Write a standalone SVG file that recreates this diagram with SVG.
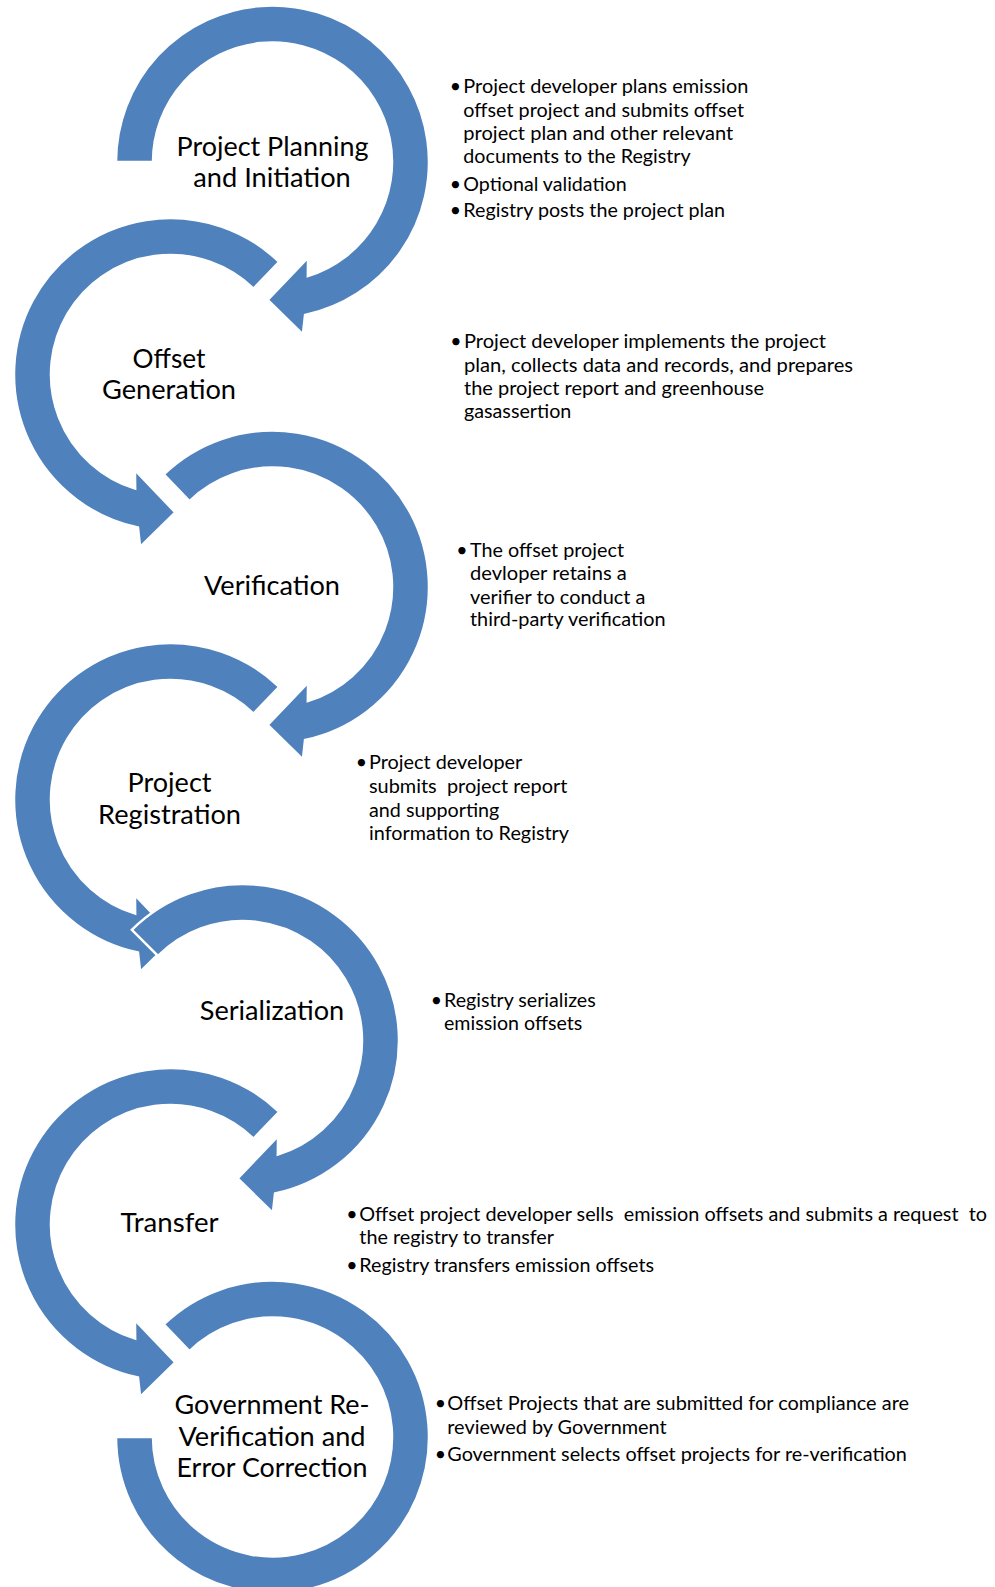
<svg xmlns="http://www.w3.org/2000/svg" width="995" height="1587" viewBox="0 0 995 1587">
<style>
.arc{fill:#4F81BD;stroke:#FFFFFF;stroke-width:2.5;stroke-linejoin:miter}
.lbl{font-family:Lato,"Liberation Sans",sans-serif;font-size:26.5px;fill:#000;text-anchor:middle}
.bt{font-family:Lato,"Liberation Sans",sans-serif;font-size:19.5px;fill:#000;white-space:pre}
.bu{font-family:Lato,"Liberation Sans",sans-serif;font-size:19.5px;fill:#000;text-anchor:middle}
</style>
<rect x="0" y="0" width="995" height="1587" fill="#FFFFFF"/>
<g id="connectors">
<path id="arrow1" class="arc" d="M116,162 A156.5,156.5 0 1 1 305.04,315.08 L302.89,334.34 L267.68,299.92 L308.05,257.6 L307.84,276.16 A119.5,119.5 0 1 0 153,162 Z"/>
<path id="arrow2" class="arc" d="M279.21,261.92 A156.5,156.5 0 1 0 137.96,527.58 L140.11,546.84 L175.32,512.42 L134.95,470.1 L135.16,488.66 A119.5,119.5 0 1 1 253.51,288.54 Z"/>
<path id="arrow3" class="arc" d="M163.79,474.42 A156.5,156.5 0 1 1 305.04,740.08 L302.89,759.34 L267.68,724.92 L308.05,682.6 L307.84,701.16 A119.5,119.5 0 1 0 189.49,501.04 Z"/>
<path id="arrow4" class="arc" d="M279.21,686.92 A156.5,156.5 0 1 0 137.96,952.58 L140.11,971.84 L175.32,937.42 L134.95,895.1 L135.16,913.66 A119.5,119.5 0 1 1 253.51,713.54 Z"/>
<path id="arrow5" class="arc" d="M131.84,929.84 A156.5,156.5 0 1 1 275.04,1193.58 L272.89,1212.84 L237.68,1178.42 L278.05,1136.1 L277.84,1154.66 A119.5,119.5 0 1 0 158,956 Z"/>
<path id="arrow6" class="arc" d="M279.21,1111.92 A156.5,156.5 0 1 0 137.96,1377.58 L140.11,1396.84 L175.32,1362.42 L134.95,1320.1 L135.16,1338.66 A119.5,119.5 0 1 1 253.51,1138.54 Z"/>
<path id="arrow7" class="arc" d="M163.79,1324.42 A156.5,156.5 0 1 1 116,1437 L153,1437 A119.5,119.5 0 1 0 189.49,1351.04 Z"/>
</g>
<g id="node1">
<text class="lbl" x="272.5" y="156" textLength="192" lengthAdjust="spacingAndGlyphs">Project Planning</text>
<text class="lbl" x="272" y="187" textLength="157.5" lengthAdjust="spacingAndGlyphs">and Initiation</text>
<text class="bu" x="455.5" y="93.3">•</text>
<text class="bt" x="463.3" y="93.3" textLength="285" lengthAdjust="spacingAndGlyphs">Project developer plans emission</text>
<text class="bt" x="463.3" y="116.5" textLength="280.7" lengthAdjust="spacingAndGlyphs">offset project and submits offset</text>
<text class="bt" x="463.3" y="140" textLength="270" lengthAdjust="spacingAndGlyphs">project plan and other relevant</text>
<text class="bt" x="463.3" y="163" textLength="227.4" lengthAdjust="spacingAndGlyphs">documents to the Registry</text>
<text class="bu" x="455.5" y="190.7">•</text>
<text class="bt" x="463.3" y="190.7" textLength="163.4" lengthAdjust="spacingAndGlyphs">Optional validation</text>
<text class="bu" x="455.5" y="216.7">•</text>
<text class="bt" x="463.3" y="216.7" textLength="261.7" lengthAdjust="spacingAndGlyphs">Registry posts the project plan</text>
</g>
<g id="node2">
<text class="lbl" x="169" y="367.5" textLength="73" lengthAdjust="spacingAndGlyphs">Offset</text>
<text class="lbl" x="169" y="399" textLength="134" lengthAdjust="spacingAndGlyphs">Generation</text>
<text class="bu" x="456" y="348.3">•</text>
<text class="bt" x="464" y="348.3" textLength="362" lengthAdjust="spacingAndGlyphs">Project developer implements the project</text>
<text class="bt" x="464" y="371.7" textLength="389" lengthAdjust="spacingAndGlyphs">plan, collects data and records, and prepares</text>
<text class="bt" x="464" y="395" textLength="300" lengthAdjust="spacingAndGlyphs">the project report and greenhouse</text>
<text class="bt" x="464" y="418.3" textLength="107.3" lengthAdjust="spacingAndGlyphs">gasassertion</text>
</g>
<g id="node3">
<text class="lbl" x="272" y="595" textLength="136" lengthAdjust="spacingAndGlyphs">Verification</text>
<text class="bu" x="462" y="557.3">•</text>
<text class="bt" x="470" y="557.3" textLength="154" lengthAdjust="spacingAndGlyphs">The offset project</text>
<text class="bt" x="470" y="580.3" textLength="156.8" lengthAdjust="spacingAndGlyphs">devloper retains a</text>
<text class="bt" x="470" y="603.5" textLength="175.5" lengthAdjust="spacingAndGlyphs">verifier to conduct a</text>
<text class="bt" x="470" y="626.3" textLength="195.5" lengthAdjust="spacingAndGlyphs">third-party verification</text>
</g>
<g id="node4">
<text class="lbl" x="169.5" y="792" textLength="84" lengthAdjust="spacingAndGlyphs">Project</text>
<text class="lbl" x="169.5" y="824" textLength="143" lengthAdjust="spacingAndGlyphs">Registration</text>
<text class="bu" x="361.3" y="769.3">•</text>
<text class="bt" x="369" y="769.3" textLength="153.3" lengthAdjust="spacingAndGlyphs">Project developer</text>
<text class="bt" x="369" y="793" textLength="198.3" lengthAdjust="spacingAndGlyphs">submits  project report</text>
<text class="bt" x="369" y="816.5" textLength="130.3" lengthAdjust="spacingAndGlyphs">and supporting</text>
<text class="bt" x="369" y="840" textLength="200" lengthAdjust="spacingAndGlyphs">information to Registry</text>
</g>
<g id="node5">
<text class="lbl" x="272" y="1019.5" textLength="144.5" lengthAdjust="spacingAndGlyphs">Serialization</text>
<text class="bu" x="436.5" y="1006.7">•</text>
<text class="bt" x="444" y="1006.7" textLength="151.7" lengthAdjust="spacingAndGlyphs">Registry serializes</text>
<text class="bt" x="444" y="1029.8" textLength="138.3" lengthAdjust="spacingAndGlyphs">emission offsets</text>
</g>
<g id="node6">
<text class="lbl" x="169.5" y="1232" textLength="98" lengthAdjust="spacingAndGlyphs">Transfer</text>
<text class="bu" x="352" y="1221">•</text>
<text class="bt" x="359.3" y="1221" textLength="627.7" lengthAdjust="spacingAndGlyphs">Offset project developer sells  emission offsets and submits a request  to</text>
<text class="bt" x="359.3" y="1244.3" textLength="194.7" lengthAdjust="spacingAndGlyphs">the registry to transfer</text>
<text class="bu" x="352" y="1272.3">•</text>
<text class="bt" x="359.3" y="1272.3" textLength="294.7" lengthAdjust="spacingAndGlyphs">Registry transfers emission offsets</text>
</g>
<g id="node7">
<text class="lbl" x="272" y="1414" textLength="195" lengthAdjust="spacingAndGlyphs">Government Re-</text>
<text class="lbl" x="272" y="1445.5" textLength="187" lengthAdjust="spacingAndGlyphs">Verification and</text>
<text class="lbl" x="272" y="1476.5" textLength="191" lengthAdjust="spacingAndGlyphs">Error Correction</text>
<text class="bu" x="440.3" y="1410.3">•</text>
<text class="bt" x="447.3" y="1410.3" textLength="461.7" lengthAdjust="spacingAndGlyphs">Offset Projects that are submitted for compliance are</text>
<text class="bt" x="447.3" y="1434" textLength="219.3" lengthAdjust="spacingAndGlyphs">reviewed by Government</text>
<text class="bu" x="440.3" y="1461">•</text>
<text class="bt" x="447.3" y="1461" textLength="459.6" lengthAdjust="spacingAndGlyphs">Government selects offset projects for re-verification</text>
</g>
</svg>
